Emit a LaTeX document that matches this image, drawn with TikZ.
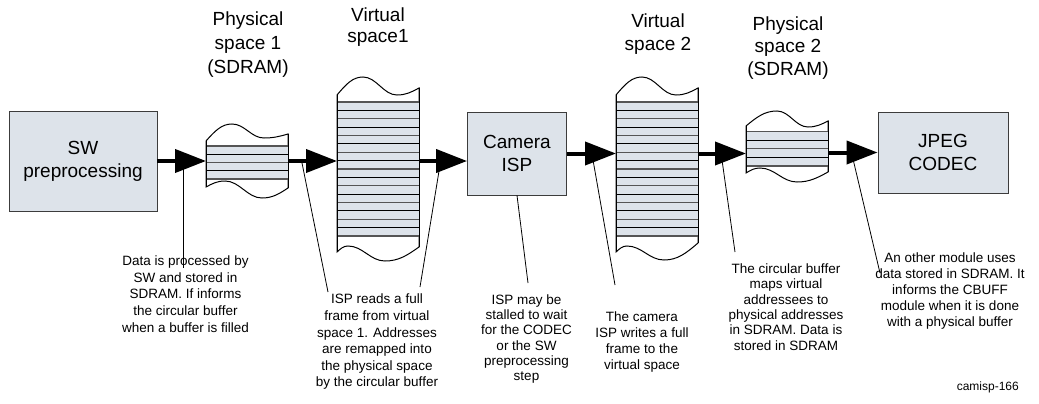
\documentclass[tikz,border=0pt]{standalone}
\usepackage{fontspec}
\setmainfont{Liberation Sans}
\usetikzlibrary{arrows.meta}
\definecolor{boxfill}{RGB}{221,227,234}
\definecolor{boxline}{RGB}{60,60,60}
\definecolor{stripegray}{RGB}{85,85,85}
% wave tail: from (#1,#2) through (#3,#4), (#5,#6) to (#7,#8)
\newcommand\wvt[8]{.. controls ({#1+0.35*(#3-#1)},{#2+0.6*(#4-#2)}) and ({#3-0.4*(#3-#1)},#4) .. (#3,#4) .. controls ({#3+0.4*(#5-#3)},#4) and ({#5-0.4*(#5-#3)},#6) .. (#5,#6) .. controls ({#5+0.4*(#7-#5)},#6) and ({#7-0.35*(#7-#5)},{#8+0.6*(#6-#8)}) .. (#7,#8)}
\begin{document}
\begin{tikzpicture}[x=1pt,y=-1pt,
  proc/.style={draw=boxline, line width=0.9pt, fill=boxfill, align=center,
    font=\fontsize{19}{23}\selectfont, inner sep=0pt},
  title/.style={align=center, inner sep=0pt},
  note/.style={align=center, inner sep=0pt},
  stripebox/.style={fill=boxfill, inner sep=0pt, outer sep=0pt, minimum width=82pt},
  outline/.style={draw=black, fill=white, line width=1pt},
  flow/.style={line width=4pt, -{Triangle[length=31pt,width=23pt]}},
  leader/.style={line width=0.8pt},
  grayline/.style={draw=stripegray, line width=1.4pt},
  blackline/.style={draw=black, line width=1pt}]
\useasboundingbox (0,0) rectangle (1039,404);

% ---------- process boxes ----------
\node[proc, minimum width=148pt, minimum height=100pt] (sw) at (83,161) {SW\\preprocessing};
\node[proc, minimum width=99pt, minimum height=83pt] (cam) at (517,153.5) {Camera\\ISP};
\node[proc, minimum width=130pt, minimum height=81pt] (jpeg) at (943,152.5) {JPEG\\CODEC};

% ---------- buffer outlines ----------
\path[outline] (206,141) \wvt{206}{141}{232}{124}{264}{138}{288}{134} -- (288,188) \wvt{288}{188}{262}{198}{225}{181}{206}{187} -- cycle;
\path[outline] (337,95) \wvt{337}{95}{363}{77}{397}{95}{419}{88} -- (419,247) \wvt{419}{247}{385}{261}{348}{246}{337}{252} -- cycle;
\path[outline] (616,95) \wvt{616}{95}{642}{77}{676}{95}{698}{88} -- (698,243) \wvt{698}{243}{664}{260}{627}{246}{616}{252} -- cycle;
\path[outline] (746,126) \wvt{746}{126}{777}{111}{808}{127}{828}{121} -- (828,172) \wvt{828}{172}{797}{182}{760}{168}{746}{173} -- cycle;

% ---------- striped regions ----------
\node[stripebox, minimum height=33pt] (p1) at (247,162.5) {};
\node[stripebox, minimum height=134pt] (v1) at (378,169) {};
\node[stripebox, minimum height=134pt] (v2) at (657,169) {};
\node[stripebox, minimum height=34.5pt] (p2) at (787,148.75) {};

\foreach \k in {0,...,4}{
  \pgfmathtruncatemacro\r{mod(\k,2)}
  \ifnum\r=0 \def\sty{grayline}\else\def\sty{blackline}\fi
  \draw[\sty] (p1.north west) ++(0,{\k*8.25}) -- ++(82,0);
  \draw[\sty] (p2.north west) ++(0,{\k*8.625}) -- ++(82,0);
}
\foreach \k in {0,...,16}{
  \pgfmathtruncatemacro\r{mod(\k,2)}
  \ifnum\r=0 \def\sty{grayline}\else\def\sty{blackline}\fi
  \draw[\sty] (v1.north west) ++(0,{\k*8.375}) -- ++(82,0);
  \draw[\sty] (v2.north west) ++(0,{\k*8.375}) -- ++(82,0);
}
% side edges over stripes
\draw[line width=1pt] (206,141) -- (206,187) (288,134) -- (288,188);
\draw[line width=1pt] (337,95) -- (337,252) (419,88) -- (419,247);
\draw[line width=1pt] (616,95) -- (616,252) (698,88) -- (698,243);
\draw[line width=1pt] (746,126) -- (746,173) (828,121) -- (828,172);

% ---------- titles ----------
\node[title, font=\fontsize{19}{24}\selectfont] (tp1) at (248,45) {Physical\\space 1\\(SDRAM)};
\node[title, font=\fontsize{19}{21}\selectfont] (tv1) at (378,27) {Virtual\\space1};
\node[title, font=\fontsize{19}{23}\selectfont] (tv2) at (658,34) {Virtual\\space 2};
\node[title, font=\fontsize{19}{22.5}\selectfont] (tp2) at (788,48) {Physical\\space 2\\(SDRAM)};

% ---------- notes ----------
\node[note, font=\fontsize{13.5}{16.6}\selectfont] (n1) at (185.5,294) {Data is processed by\\SW and stored in\\SDRAM. If informs\\the circular buffer\\when a buffer is filled};
\node[note, font=\fontsize{13.5}{16.6}\selectfont] (n2) at (377,342) {ISP reads a full\\frame from virtual\\space 1. Addresses\\are remapped into\\the physical space\\by the circular buffer};
\node[note, font=\fontsize{13.5}{15.2}\selectfont] (n3) at (526.5,339) {ISP may be\\stalled to wait\\for the CODEC\\or the SW\\preprocessing\\step};
\node[note, font=\fontsize{13.5}{16}\selectfont] (n4) at (642,342) {The camera\\ISP writes a full\\frame to the\\virtual space};
\node[note, font=\fontsize{13.5}{15.3}\selectfont] (n5) at (786,307) {The circular buffer\\maps virtual\\addressees to\\physical addresses\\in SDRAM. Data is\\stored in SDRAM};
\node[note, font=\fontsize{13.5}{16.2}\selectfont] (n6) at (950,291) {An other module uses\\data stored in SDRAM. It\\informs the CBUFF\\module when it is done\\with a physical buffer};
\node[anchor=east, inner sep=0pt, font=\fontsize{12}{14}\selectfont] (tag) at (1019,387) {camisp-166};

% ---------- leader lines ----------
\coordinate (s1) at (183,161);   \coordinate (e1) at (183,268);
\coordinate (s2) at (302,163);   \coordinate (e2) at (328,292);
\coordinate (s3) at (440,165);   \coordinate (e3) at (420,287);
\coordinate (e4) at (528,283);
\coordinate (s5) at (593,160);   \coordinate (e5) at (615,285);
\coordinate (s6) at (722,160);   \coordinate (e6) at (735,252);
\coordinate (s7) at (853,159);   \coordinate (e7) at (880,273);
\draw[leader] (s1) -- (e1);
\draw[leader] (s2) -- (e2);
\draw[leader] (s3) -- (e3);
\draw[leader] (cam.south) -- (e4);
\draw[leader] (s5) -- (e5);
\draw[leader] (s6) -- (e6);
\draw[leader] (s7) -- (e7);

% ---------- flow arrows ----------
\draw[flow] (sw.east) -- (sw.east -| p1.west);
\draw[flow] (p1.east |- sw.east) -- (v1.west |- sw.east);
\draw[flow] (v1.east |- sw.east) -- (cam.west |- sw.east);
\draw[flow] (cam.east) -- (cam.east -| v2.west);
\draw[flow] (v2.east |- cam.east) -- (p2.west |- cam.east);
\draw[flow] (p2.east |- jpeg.west) -- (jpeg.west);
\end{tikzpicture}
\end{document}
